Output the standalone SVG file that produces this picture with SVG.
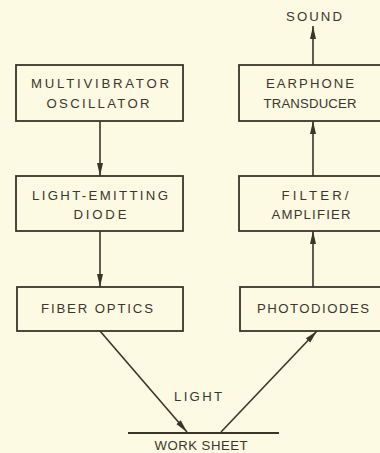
<svg xmlns="http://www.w3.org/2000/svg" width="380" height="453" viewBox="0 0 380 453">
<defs>
<style>
.bg{fill:#fdfae3}
.box{fill:#fdfae3;stroke:#3a352b;stroke-width:1.8}
.ln{stroke:#3a352b;stroke-width:1.6;fill:none}
.t{font-family:"Liberation Sans",Arial,sans-serif;font-size:13.2px;fill:#3a372e;text-anchor:middle}
</style>
<marker id="ah" viewBox="0 0 13 7" refX="13" refY="3.5" markerWidth="13" markerHeight="7" markerUnits="userSpaceOnUse" orient="auto">
<path d="M0,0.5 L13,3.5 L0,6.5 Z" fill="#3a352b"/>
</marker>
</defs>
<rect class="bg" x="0" y="0" width="380" height="453"/>
<g id="connectors">
<line class="ln" x1="100" y1="121" x2="100" y2="176" marker-end="url(#ah)"/>
<line class="ln" x1="100" y1="231" x2="100" y2="287" marker-end="url(#ah)"/>
<line class="ln" x1="100" y1="331" x2="187" y2="432" marker-end="url(#ah)"/>
<line class="ln" x1="221" y1="432" x2="317" y2="331" marker-end="url(#ah)"/>
<line class="ln" x1="313" y1="287" x2="313" y2="231" marker-end="url(#ah)"/>
<line class="ln" x1="313" y1="176" x2="313" y2="121" marker-end="url(#ah)"/>
<line class="ln" x1="313" y1="65" x2="313" y2="26" marker-end="url(#ah)"/>
</g>
<g id="multivibrator">
<rect class="box" x="16" y="65" width="167" height="56"/>
<text class="t" x="100" y="88" textLength="138" lengthAdjust="spacing">MULTIVIBRATOR</text>
<text class="t" x="98" y="108" textLength="103" lengthAdjust="spacing">OSCILLATOR</text>
</g>
<g id="led">
<rect class="box" x="16" y="176" width="167" height="55"/>
<text class="t" x="100" y="200" textLength="136" lengthAdjust="spacing">LIGHT-EMITTING</text>
<text class="t" x="100" y="219" textLength="53" lengthAdjust="spacing">DIODE</text>
</g>
<g id="fiber">
<rect class="box" x="17" y="287" width="166" height="44"/>
<text class="t" x="97" y="313" textLength="112" lengthAdjust="spacing">FIBER OPTICS</text>
</g>
<g id="earphone">
<rect class="box" x="239" y="65" width="145" height="56"/>
<text class="t" x="310" y="88" textLength="88" lengthAdjust="spacing">EARPHONE</text>
<text class="t" x="310" y="108" textLength="93" lengthAdjust="spacing">TRANSDUCER</text>
</g>
<g id="filter">
<rect class="box" x="239" y="176" width="145" height="55"/>
<text class="t" x="315" y="200" textLength="67" lengthAdjust="spacing">FILTER/</text>
<text class="t" x="311" y="219" textLength="79" lengthAdjust="spacing">AMPLIFIER</text>
</g>
<g id="photodiodes">
<rect class="box" x="240" y="287" width="144" height="44"/>
<text class="t" x="313" y="313" textLength="112" lengthAdjust="spacing">PHOTODIODES</text>
</g>
<g id="sound">
<text class="t" x="314" y="21" textLength="56" lengthAdjust="spacing">SOUND</text>
</g>
<g id="light">
<text class="t" x="198" y="401" textLength="48" lengthAdjust="spacing">LIGHT</text>
</g>
<g id="worksheet">
<line x1="128" y1="433" x2="279" y2="433" stroke="#3a352b" stroke-width="2.2"/>
<text class="t" x="201" y="450" textLength="93" lengthAdjust="spacing">WORK SHEET</text>
</g>
</svg>
